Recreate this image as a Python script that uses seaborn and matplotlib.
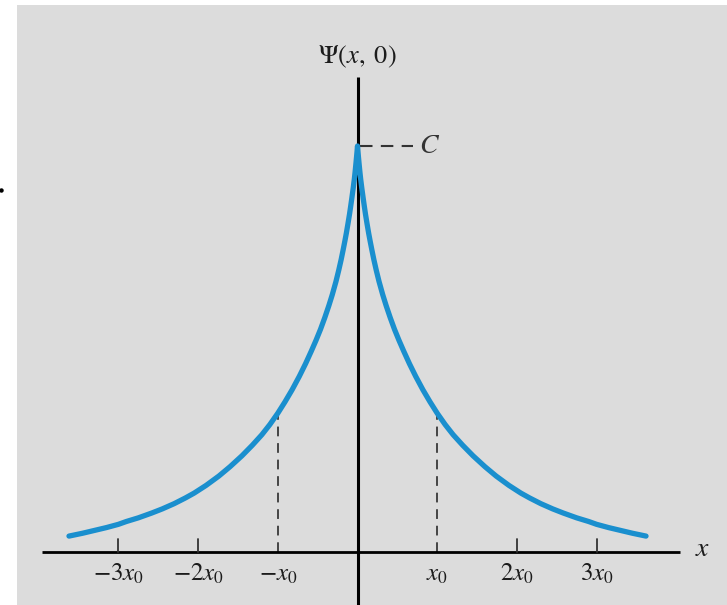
import numpy as np
import pandas as pd
import matplotlib
matplotlib.use("Agg")
import matplotlib.pyplot as plt
import seaborn as sns

# Wave packet profile at t = 0, sampled on the positive side (x in units of x0,
# amplitude in units of the peak value C); the profile is even in x.
x_half = [0.0, 0.005, 0.01, 0.02, 0.03, 0.04, 0.054, 0.07, 0.085, 0.10, 0.12, 0.14,
          0.159, 0.18, 0.205, 0.235, 0.27, 0.317, 0.36, 0.41, 0.464, 0.52, 0.58,
          0.652, 0.73, 0.82, 0.91, 1.0, 1.1, 1.2, 1.32, 1.45, 1.6, 1.74, 1.9, 2.05,
          2.16, 2.3, 2.45, 2.58, 2.75, 2.9, 3.0, 3.15, 3.3, 3.45, 3.62]
psi_half = [1.0, 0.988, 0.977, 0.956, 0.936, 0.918, 0.896, 0.873, 0.852, 0.832,
            0.808, 0.785, 0.765, 0.744, 0.720, 0.694, 0.666, 0.633, 0.606, 0.577,
            0.548, 0.521, 0.494, 0.463, 0.432, 0.399, 0.369, 0.341, 0.313, 0.288,
            0.262, 0.236, 0.209, 0.186, 0.163, 0.144, 0.132, 0.118, 0.105, 0.095,
            0.083, 0.074, 0.067, 0.059, 0.052, 0.045, 0.038]

tick_pos = [-3, -2, -1, 1, 2, 3]
tick_labels = [r"$-3x_0$", r"$-2x_0$", r"$-x_0$", r"$x_0$", r"$2x_0$", r"$3x_0$"]
guide_pos = [-1, 1]          # dashed drops to the curve
psi_at_guide = 0.341
y_label = r"$\Psi(x,\;0)$"
x_label = r"$x$"
peak_label = r"$C$"

x_full = [-v for v in x_half[::-1]] + x_half[1:]
psi_full = psi_half[::-1] + psi_half[1:]
df = pd.DataFrame({"x": x_full, "psi": psi_full})

sns.set_style("white")
plt.rcParams["mathtext.fontset"] = "stix"
plt.rcParams["font.family"] = ["STIXGeneral", "DejaVu Serif"]

W, H = 727, 605
fig = plt.figure(figsize=(W / 100, H / 100), dpi=100, facecolor="white")
ax = fig.add_axes([17 / W, 0, 710 / W, 600 / H])
ax.set_facecolor("#dcdcdc")
for s in ax.spines.values():
    s.set_visible(False)
ax.set_xticks([])
ax.set_yticks([])

x0px, xunit = 357.5, 79.7
ybase, yunit = 551.5, 405.5
ax.set_xlim((17 - x0px) / xunit, (727 - x0px) / xunit)
ax.set_ylim((ybase - 605) / yunit, (ybase - 5) / yunit)

txt_color = "#1c1c1c"

# coordinate axes
ax.plot([(42 - x0px) / xunit, (680 - x0px) / xunit], [0, 0], color="black", lw=2.0,
        solid_capstyle="butt", zorder=3)
ax.plot([0, 0], [(ybase - 605) / yunit, (ybase - 77) / yunit], color="black", lw=2.2,
        solid_capstyle="butt", zorder=3)

# tick marks and labels
for p, lab in zip(tick_pos, tick_labels):
    if p not in guide_pos:
        ax.plot([p, p], [0, 0.03], color="#333333", lw=1.3, zorder=3)
    ax.text(p, -0.058, lab, ha="center", va="center", fontsize=18, color=txt_color)

# dashed drops at +/- x0
for p in guide_pos:
    ax.plot([p, p], [0, psi_at_guide], color="#444444", lw=1.4, ls=(0, (5, 3.5)), zorder=2)

# the profile
sns.lineplot(data=df, x="x", y="psi", ax=ax, color="#1a8fce", lw=3.8, sort=False,
             estimator=None, zorder=4, solid_joinstyle="round")
ax.set_xlabel("")
ax.set_ylabel("")

# peak marker C
ax.plot([0.03, (413 - x0px) / xunit], [1.0, 1.0], color="#333333", lw=1.5,
        ls=(0, (6, 4)), zorder=3)
ax.text((419 - x0px) / xunit, 1.0, peak_label, ha="left", va="center", fontsize=20,
        color="#333333")

ax.text(0, (ybase - 57) / yunit, y_label, ha="center", va="center", fontsize=19,
        color=txt_color)
ax.text((703 - x0px) / xunit, 0.005, x_label, ha="center", va="center", fontsize=20,
        color=txt_color)

fig.add_artist(plt.Line2D([1.5 / W], [1 - 190 / H], marker="o", ms=2.2, color="black",
                          transform=fig.transFigure))

fig.savefig("out.png", dpi=100, facecolor="white")
